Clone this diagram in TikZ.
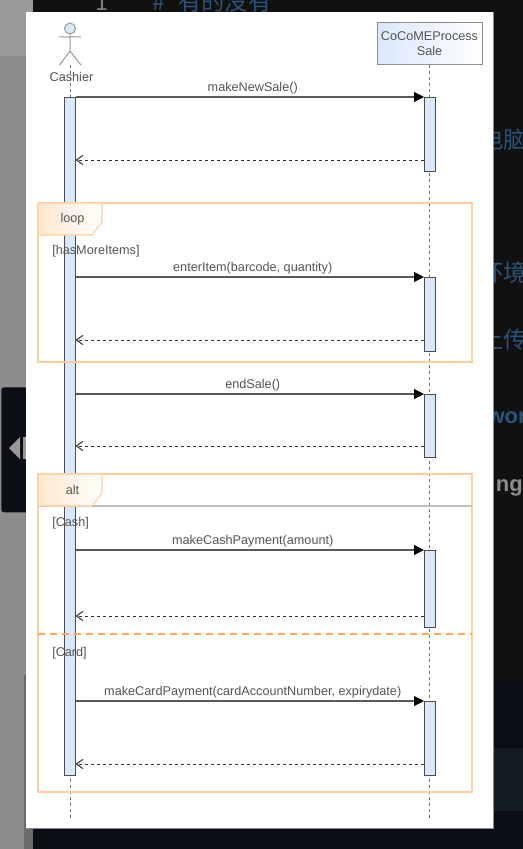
\documentclass[tikz,border=0pt]{standalone}
\usepackage{fontspec}
\setmainfont{Liberation Sans}
\newfontfamily\cjkfont{Noto Sans CJK SC}
\usetikzlibrary{arrows.meta, positioning, calc}

\definecolor{barblue}{HTML}{DAE8FC}
\definecolor{frameorange}{HTML}{FFCE9F}
\definecolor{splitorange}{HTML}{FFA95C}
\definecolor{tagorange}{HTML}{FFE6CC}
\definecolor{labelgray}{HTML}{555555}
\definecolor{editorblack}{HTML}{111111}
\definecolor{panelblack}{HTML}{0A0F15}
\definecolor{panelband}{HTML}{141B21}
\definecolor{codeblue}{HTML}{2B5278}

\tikzset{
    msgtext/.style={text=labelgray, font=\fontsize{9.5}{11}\selectfont, inner sep=0pt},
    calltext/.style={msgtext, above=2pt, xshift=2.25pt},
    bar/.style={draw=black!70, fill=barblue, line width=0.75pt, minimum width=8.25pt, anchor=north, inner sep=0pt, outer sep=0pt},
    callmsg/.style={draw=black!65, line width=0.8pt, -{Triangle[length=7.5pt, width=7.5pt, color=black]}},
    backmsg/.style={draw=black!80, line width=0.75pt, dash pattern=on 2.25pt off 2.25pt, -{Straight Barb[length=5pt, width=7pt]}},
    lifeline/.style={draw=black!55, line width=0.6pt, dash pattern=on 2.25pt off 2.25pt},
    frameline/.style={draw=frameorange, line width=0.85pt},
    frametag/.style={frameline, left color=tagorange, right color=white},
    stickman/.style={draw=black!40, line width=0.75pt},
    behindtext/.style={inner sep=0pt, anchor=west, font=\cjkfont\fontsize{17.5}{19}\selectfont, text=codeblue}
}

\begin{document}
\begin{tikzpicture}[x=0.75pt, y=-0.75pt]
    \useasboundingbox (0,0) rectangle (523,849);

    % Screenshot behind the dialog
    \fill[editorblack] (0,0) rectangle (523,849);
    \fill[panelblack] (33,680) rectangle (523,849);
    \fill[panelband] (493,748) rectangle (523,811);
    \fill[black!45] (0,0) rectangle (33,849);
    \fill[black!40] (0,0) rectangle (33,56);
    \fill[black!58] (24,675) rectangle (33,849);
    \node[draw=none, fill=panelblack, rounded corners=2pt, minimum width=30pt, minimum height=93.75pt, inner sep=0pt, anchor=north west] (Handle) at (1,387) {};
    \fill[black!40] (9,448) -- (20,437) -- (20,459) -- cycle;
    \fill[black!40] (23,437) rectangle (28,459);
    \node[behindtext, text=black!50] (LineNo) at (95,2) {1};
    \node[behindtext] (CodeHash) at (152,2) {\#};
    \node[behindtext] (CodeTop) at (178,2) {有的没有};
    \node[behindtext, anchor=east] (FragA) at (527,140) {电脑};
    \node[behindtext, anchor=east] (FragB) at (527,273) {环境};
    \node[behindtext, anchor=east] (FragC) at (527,340) {上传};
    \node[behindtext, anchor=east, font=\fontsize{16.5}{18}\selectfont\bfseries] (FragD) at (527,418) {wor};
    \node[behindtext, anchor=east, font=\fontsize{16.5}{18}\selectfont\bfseries, text=black!45] (FragE) at (523,488) {ng};

    % Dialog
    \fill[white] (26,12) rectangle (493,828);
    \draw[draw=black!45, line width=0.75pt] (493,12) -- (493,828) -- (26,828);

    % Participants
    \draw[stickman, fill=barblue] (70,28.5) circle (5.5);
    \draw[stickman] (70,34) -- (70,51) (59,37) -- (81,37) (59.5,65) -- (70,51) -- (81,65);
    \node[msgtext] (Cashier) at (71.5,76.5) {Cashier};
    \node[draw=black!45, line width=0.75pt, left color=barblue, right color=white, minimum width=78.75pt, minimum height=31.5pt, inner sep=0pt, outer sep=0pt, anchor=north west, align=center, font=\fontsize{9.5}{11.2}\selectfont, text=labelgray] (Process) at (377,23) {CoCoMEProcess\\ Sale};

    % Lifelines
    \coordinate (CashierEnd) at (70,818);
    \coordinate (ProcessEnd) at (429.5,818);
    \coordinate (CashierTop) at (70,65);
    \draw[lifeline] (CashierTop) -- (CashierEnd);
    \draw[lifeline] (Process.south -| ProcessEnd) -- (ProcessEnd);

    % Activations
    \node[bar, minimum height=508.5pt] (CashierBar) at (70,97) {};
    \node[bar, minimum height=55.5pt] (NewSaleBar) at (429.5,97) {};
    \node[bar, minimum height=55.5pt] (ItemBar) at (429.5,277) {};
    \node[bar, minimum height=47.25pt] (EndBar) at (429.5,394) {};
    \node[bar, minimum height=57.75pt] (CashBar) at (429.5,550) {};
    \node[bar, minimum height=55.5pt] (CardBar) at (429.5,701) {};

    % Messages
    \draw[callmsg] (CashierBar.east |- NewSaleBar.north) -- node[calltext] (NewSaleText) {makeNewSale()} (NewSaleBar.north west);
    \draw[backmsg] ($(NewSaleBar.south west)+(0,-11)$) -- ($(NewSaleBar.south west -| CashierBar.east)+(0,-11)$);
    \draw[callmsg] (CashierBar.east |- ItemBar.north) -- node[calltext] (ItemText) {enterItem(barcode, quantity)} (ItemBar.north west);
    \draw[backmsg] ($(ItemBar.south west)+(0,-11)$) -- ($(ItemBar.south west -| CashierBar.east)+(0,-11)$);
    \draw[callmsg] (CashierBar.east |- EndBar.north) -- node[calltext] (EndText) {endSale()} (EndBar.north west);
    \draw[backmsg] ($(EndBar.south west)+(0,-11)$) -- ($(EndBar.south west -| CashierBar.east)+(0,-11)$);
    \draw[callmsg] (CashierBar.east |- CashBar.north) -- node[calltext] (CashText) {makeCashPayment(amount)} (CashBar.north west);
    \draw[backmsg] ($(CashBar.south west)+(0,-11)$) -- ($(CashBar.south west -| CashierBar.east)+(0,-11)$);
    \draw[callmsg] (CashierBar.east |- CardBar.north) -- node[calltext] (CardText) {makeCardPayment(cardAccountNumber, expirydate)} (CardBar.north west);
    \draw[backmsg] ($(CardBar.south west)+(0,-11)$) -- ($(CardBar.south west -| CashierBar.east)+(0,-11)$);

    % Loop frame
    \draw[frameline] (38,203) rectangle (472,362);
    \draw[frametag] (38,203) -- (102,203) -- (102,222) -- (92,235) -- (38,235) -- cycle;
    \node[msgtext] (LoopTag) at (72.5,219) {loop};
    \node[msgtext, anchor=west] (LoopGuard) at (52,251) {[hasMoreItems]};

    % Alt frame
    \draw[frameline] (38,474) rectangle (472,792);
    \draw[draw=black!25, line width=0.9pt] (38,506) -- (472,506);
    \draw[frametag] (38,474) -- (102,474) -- (102,493) -- (92,506) -- (38,506) -- cycle;
    \node[msgtext] (AltTag) at (72.5,490) {alt};
    \node[msgtext, anchor=west] (CashGuard) at (52,523) {[Cash]};
    \node[msgtext, anchor=west] (CardGuard) at (52,653) {[Card]};

    % Split of the alt frame
    \coordinate (SplitLeft) at (38,634);
    \coordinate (SplitRight) at (472,634);
    \draw[draw=splitorange, line width=1.3pt, dash pattern=on 5pt off 4pt] (SplitLeft) -- (SplitRight);
\end{tikzpicture}
\end{document}
